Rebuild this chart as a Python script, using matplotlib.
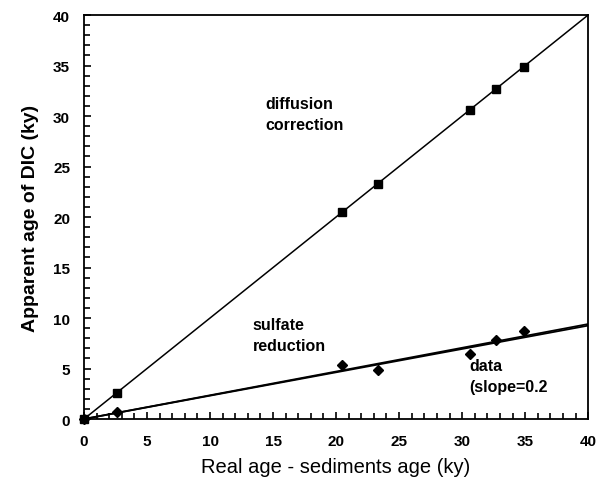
import matplotlib
matplotlib.use("Agg")
from matplotlib import pyplot as plt
from matplotlib.ticker import MultipleLocator
import numpy as np

plt.rcParams['font.family'] = ['Liberation Sans', 'DejaVu Sans']

# data
real_age = [0, 2.6, 20.5, 23.3, 30.6, 32.7, 34.9]
diffusion_age = [0, 2.6, 20.5, 23.3, 30.6, 32.7, 34.9]
data_age = [0, 0.65, 5.3, 4.9, 6.4, 7.85, 8.75]
line_x = [0, 40]
diffusion_line = [0, 40]
sulfate_line = [0, 9.4]
fit_line = [0, 9.25]

fig = plt.figure(figsize=(5.98, 4.85), dpi=100)
ax = fig.add_axes([0.1405, 0.134, 0.843, 0.833])

ax.plot(line_x, diffusion_line, color='black', lw=1.1)
ax.plot(line_x, sulfate_line, color='black', lw=1.3)
ax.plot(line_x, fit_line, color='black', lw=1.3)
ax.plot(real_age, diffusion_age, linestyle='none', marker='s', markersize=5.5,
        color='black', clip_on=False, zorder=5)
ax.plot(real_age, data_age, linestyle='none', marker='D', markersize=5,
        color='black', clip_on=False, zorder=5)

ax.set_xlim(0, 40)
ax.set_ylim(0, 40)
ax.xaxis.set_major_locator(MultipleLocator(5))
ax.yaxis.set_major_locator(MultipleLocator(5))
ax.xaxis.set_minor_locator(MultipleLocator(1))
ax.yaxis.set_minor_locator(MultipleLocator(1))
ax.tick_params(which='both', direction='in', top=False, right=False, width=1.2, color='black')
ax.tick_params(which='major', length=5)
ax.tick_params(which='minor', length=4)
ax.tick_params(axis='x', pad=11)
ax.tick_params(axis='y', pad=10)
for lab in ax.get_xticklabels() + ax.get_yticklabels():
    lab.set_fontsize(11)
    lab.set_fontweight('bold')
for s in ax.spines.values():
    s.set_linewidth(1.3)

ax.set_xlabel("Real age - sediments age (ky)", fontsize=14.5, labelpad=6)
ax.set_ylabel("Apparent age of DIC (ky)", fontsize=14, fontweight='bold', labelpad=10)

ax.text(14.4, 30.2, "diffusion\ncorrection", fontsize=11.5, fontweight='bold', va='center', linespacing=1.45)
ax.text(13.4, 8.3, "sulfate\nreduction", fontsize=11.5, fontweight='bold', va='center', linespacing=1.45)
ax.text(30.6, 4.25, "data\n(slope=0.2", fontsize=11.5, fontweight='bold', va='center', linespacing=1.45)

fig.savefig("out.png", dpi=100)
